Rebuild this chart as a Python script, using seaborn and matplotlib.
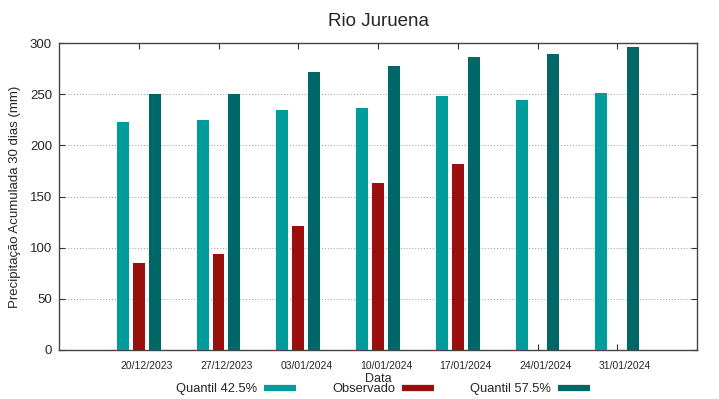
import numpy as np
import pandas as pd
import matplotlib.pyplot as plt
from matplotlib.lines import Line2D
import seaborn as sns

datas = ["20/12/2023", "27/12/2023", "03/01/2024", "10/01/2024",
         "17/01/2024", "24/01/2024", "31/01/2024"]
quantil_425 = [223, 225, 235, 236, 248, 244, 251]
observado = [85, 94, 121, 163, 182, np.nan, np.nan]
quantil_575 = [250, 250, 272, 278, 286, 289, 296]

series = ["Quantil 42.5%", "Observado", "Quantil 57.5%"]
cores = ["#009b9b", "#9b0e0e", "#006767"]

sns.set_style("white")
plt.rcParams["font.family"] = ["Liberation Sans", "DejaVu Sans"]

df = pd.DataFrame({
    "Data": datas * 3,
    "valor": quantil_425 + observado + quantil_575,
    "serie": [s for s in series for _ in datas],
}).dropna()

fig = plt.figure(figsize=(7.19, 3.99), dpi=100)
ax = fig.add_axes([59 / 719, 49 / 399, 638 / 719, 307 / 399])

sns.barplot(data=df, x="Data", y="valor", hue="serie", order=datas,
            hue_order=series, palette=cores, saturation=1, width=0.6, gap=0.25,
            errorbar=None, legend=False, linewidth=0, ax=ax, zorder=3)

ax.set_xlim(-1, len(datas))
ax.set_ylim(0, 300)
ax.set_yticks(range(0, 301, 50))
ax.yaxis.grid(True, linestyle=(0, (1, 2)), color="#9a9a9a", linewidth=0.7, zorder=0)
ax.xaxis.grid(False)

# ticks on group centres, labels drawn slightly to the right (as in the original)
pos = np.arange(len(datas))
ax.set_xticks(pos, [""] * len(datas))
ax.set_xticks(pos + 0.1, datas, minor=True)
ax.tick_params(axis="x", which="major", direction="in", length=4, top=True,
               bottom=True, color="#333333")
ax.tick_params(axis="x", which="minor", length=0, labelsize=7.5, pad=8)
ax.tick_params(axis="y", direction="in", length=4, left=True, right=True,
               labelsize=9.5, color="#333333", pad=5)

for s in ax.spines.values():
    s.set_color("#444444")
    s.set_linewidth(1.0)

ax.set_xlabel("Data", fontsize=9, labelpad=1)
ax.set_ylabel("Precipitação Acumulada 30 dias (mm)", fontsize=9.5, labelpad=6)
ax.set_title("Rio Juruena", fontsize=13.5, pad=12)

handles = [Line2D([0], [0], color=c, lw=4.5, solid_capstyle="butt") for c in cores]
fig.legend(handles, series, loc="center", bbox_to_anchor=(0.533, 0.024),
           ncol=3, frameon=False, markerfirst=False, fontsize=9.3,
           handlelength=2.5, columnspacing=2.8, handletextpad=0.5)

fig.savefig("out.png", dpi=100)
